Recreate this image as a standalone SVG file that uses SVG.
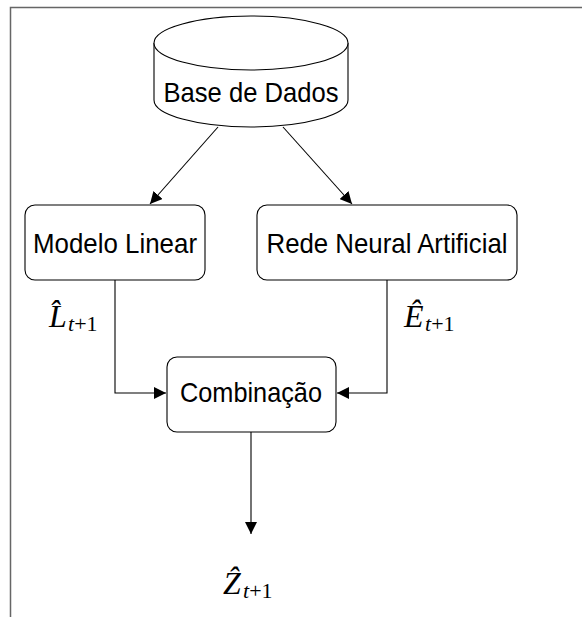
<svg xmlns="http://www.w3.org/2000/svg" width="582" height="617" viewBox="0 0 582 617">
<style>
.shape{fill:#fff;stroke:#000;stroke-width:1.1}
.lbl{font-family:"Liberation Sans",Arial,sans-serif;font-size:28px;fill:#000;text-anchor:middle}
.math{font-family:"Liberation Serif","Times New Roman",serif;fill:#000}
.edge{fill:none;stroke:#000;stroke-width:1.1}
</style>
<defs>
<marker id="arr" viewBox="0 0 12 12" refX="12" refY="6" markerWidth="12" markerHeight="12" markerUnits="userSpaceOnUse" orient="auto">
<path d="M0,0 L12,6 L0,12 Z" fill="#000"/>
</marker>
</defs>
<rect width="582" height="617" fill="#fff"/>
<path d="M10.5,617 V7.5 H582" fill="none" stroke="#666" stroke-width="1.5"/>
<g id="connectors">
<line class="edge" x1="218" y1="127" x2="150" y2="204" marker-end="url(#arr)"/>
<line class="edge" x1="283" y1="127" x2="352" y2="204" marker-end="url(#arr)"/>
<path class="edge" d="M115,280 V393 H166" marker-end="url(#arr)"/>
<path class="edge" d="M387,280 V393 H337" marker-end="url(#arr)"/>
<line class="edge" x1="251" y1="432" x2="251" y2="534" marker-end="url(#arr)"/>
</g>
<g id="db">
<path class="shape" d="M154,43 A97,27 0 0 1 348,43 V100 A97,27 0 0 1 154,100 Z"/>
<path class="shape" d="M154,43 A97,27 0 0 0 348,43" fill="none"/>
<text class="lbl" x="251" y="102" textLength="175" lengthAdjust="spacingAndGlyphs">Base de Dados</text>
</g>
<g id="linear">
<rect class="shape" x="25" y="205" width="180" height="75" rx="10"/>
<text class="lbl" x="115" y="253" textLength="164" lengthAdjust="spacingAndGlyphs">Modelo Linear</text>
</g>
<g id="rna">
<rect class="shape" x="257" y="205" width="260" height="75" rx="10"/>
<text class="lbl" x="387" y="253" textLength="241" lengthAdjust="spacingAndGlyphs">Rede Neural Artificial</text>
</g>
<g id="comb">
<rect class="shape" x="167" y="357" width="169" height="75" rx="10"/>
<text class="lbl" x="251" y="402" textLength="142" lengthAdjust="spacingAndGlyphs">Combinação</text>
</g>
<g id="label-L">
<text class="math" x="49" y="327" font-size="32" font-style="italic">L̂</text>
<text class="math" x="68" y="331" font-size="22"><tspan font-style="italic">t</tspan>+1</text>
</g>
<g id="label-E">
<text class="math" x="404" y="327" font-size="32" font-style="italic">Ê</text>
<text class="math" x="425" y="331" font-size="22"><tspan font-style="italic">t</tspan>+1</text>
</g>
<g id="label-Z">
<text class="math" x="223" y="594" font-size="32" font-style="italic">Ẑ</text>
<text class="math" x="243" y="598" font-size="22"><tspan font-style="italic">t</tspan>+1</text>
</g>
</svg>
